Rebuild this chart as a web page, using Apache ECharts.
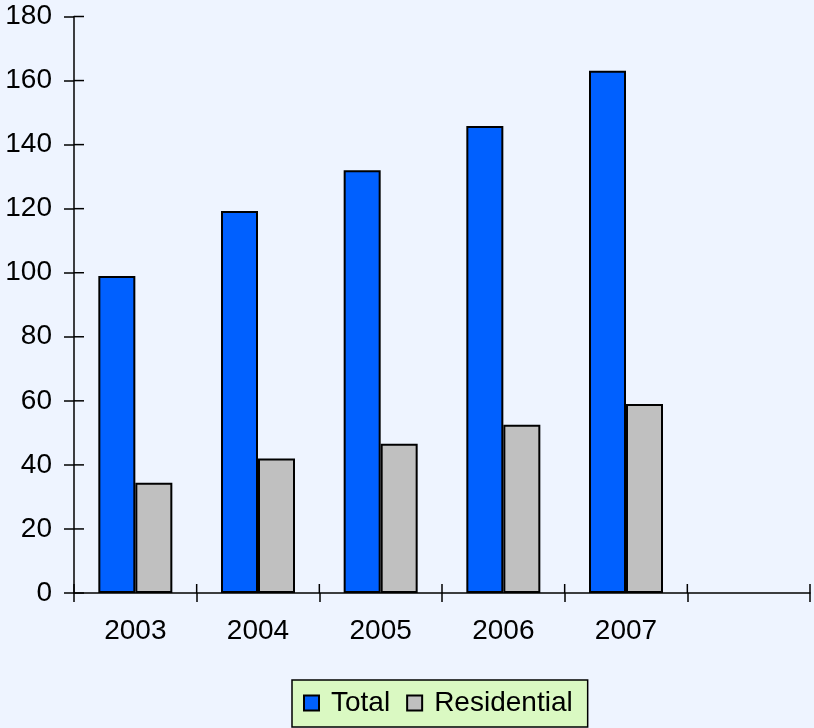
<!DOCTYPE html>
<html>
<head>
<meta charset="utf-8">
<script src="https://cdn.jsdelivr.net/npm/echarts@6/dist/echarts.min.js"></script>
<style>
  html, body { margin: 0; padding: 0; background: #EEF4FF; }
  #chart { width: 814px; height: 728px; }
</style>
</head>
<body>
<div id="chart"></div>
<script>
// Years on the category axis (the trailing empty slot keeps the axis running to the right edge)
const years = ['2003', '2004', '2005', '2006', '2007', ''];
const totalValues = [99, 119.3, 132, 145.8, 163.1, null];
const residentialValues = [34.4, 42, 46.6, 52.5, 59, null];
const yMin = 0, yMax = 180, yStep = 20;
const yTickValues = [0, 20, 40, 60, 80, 100, 120, 140, 160, 180];

const font = 'Arial, "Liberation Sans", sans-serif';
const axisLineStyle = { color: '#000', width: 1.5 };
const tickLen = 10;

const chart = echarts.init(document.getElementById('chart'), null, { renderer: 'canvas' });

// Inner halves of the crossing tick marks (the axes draw the outer halves).
function yInnerTick(params, api) {
  const v = api.value(1);
  const p = api.coord([0, v]);
  const band = api.size([1, 0])[0];
  const x = p[0] - band / 2;
  return {
    type: 'line',
    shape: { x1: x, y1: p[1], x2: x + tickLen, y2: p[1] },
    style: { stroke: '#000', lineWidth: 1.5 },
    silent: true
  };
}
function xInnerTick(params, api) {
  const i = api.value(0);
  const last = years.length - 1;
  const band = api.size([1, 0])[0];
  const p = api.coord([Math.min(i, last), 0]);
  const x = i <= last ? p[0] - band / 2 : p[0] + band / 2;
  return {
    type: 'line',
    shape: { x1: x, y1: p[1], x2: x, y2: p[1] - tickLen + 1 },
    style: { stroke: '#000', lineWidth: 1.5 },
    silent: true
  };
}

chart.setOption({
  backgroundColor: '#EEF4FF',
  animation: false,
  grid: { left: 74, right: 4, top: 16.5, bottom: 135, containLabel: false },
  legend: {
    left: 292, top: 680,
    backgroundColor: '#DAF9C2',
    borderColor: '#000', borderWidth: 1.5,
    padding: [9, 15, 10, 11],
    itemGap: 16,
    itemWidth: 15, itemHeight: 15,
    icon: 'rect',
    textStyle: { fontFamily: font, fontSize: 28, color: '#000', padding: [0, 0, 0, 7] },
    data: ['Total', 'Residential']
  },
  xAxis: {
    type: 'category', data: years, boundaryGap: true,
    axisLine: { show: true, onZero: false, lineStyle: axisLineStyle },
    axisTick: { show: true, length: tickLen - 1, lineStyle: axisLineStyle },
    axisLabel: { fontFamily: font, fontSize: 28, color: '#000', margin: 24 },
    splitLine: { show: false }
  },
  yAxis: {
    type: 'value', min: yMin, max: yMax, interval: yStep,
    axisLine: { show: true, onZero: false, lineStyle: axisLineStyle },
    axisTick: { show: true, length: tickLen, lineStyle: axisLineStyle },
    axisLabel: { fontFamily: font, fontSize: 28, color: '#000', margin: 22 },
    splitLine: { show: false }
  },
  series: [
    {
      name: 'Total', type: 'bar', data: totalValues,
      barWidth: 37, barGap: '0%',
      itemStyle: { color: '#0060FF', borderColor: '#000', borderWidth: 2 }
    },
    {
      name: 'Residential', type: 'bar', data: residentialValues,
      barWidth: 37, barGap: '0%',
      itemStyle: { color: '#C0C0C0', borderColor: '#000', borderWidth: 2 }
    },
    {
      type: 'custom', renderItem: yInnerTick, silent: true, z: 5,
      data: yTickValues.map(v => [0, v])
    },
    {
      type: 'custom', renderItem: xInnerTick, silent: true, z: 5,
      data: years.map((_, i) => [i, 0]).concat([[years.length, 0]])
    }
  ]
});
</script>
</body>
</html>
